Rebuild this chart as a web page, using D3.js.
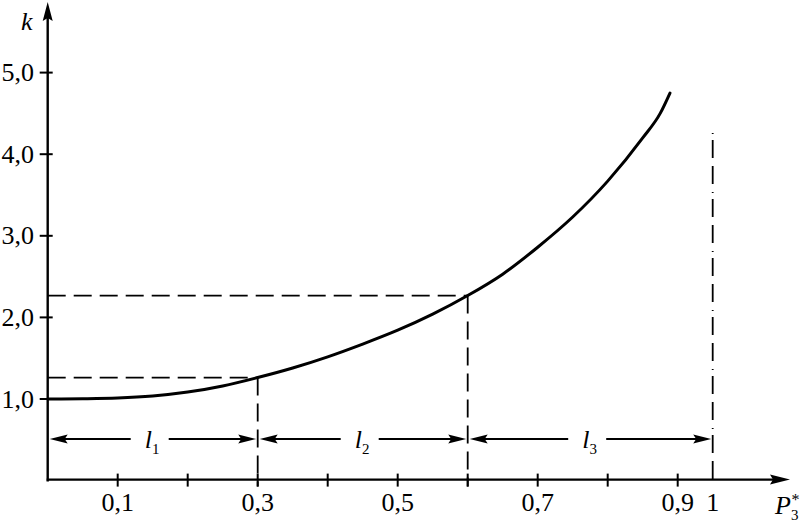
<!DOCTYPE html>
<html>
<head>
<meta charset="utf-8">
<script src="https://cdn.jsdelivr.net/npm/d3@7"></script>
<style>
  html, body { margin: 0; padding: 0; background: #fff; }
  svg { display: block; }
  text { font-family: "Liberation Serif", "Times New Roman", serif; fill: #000; }
</style>
</head>
<body>
<svg id="chart" width="800" height="523"></svg>
<script>
// ---- data ----
const pValues = [0, 0.05, 0.10, 0.15, 0.20, 0.25, 0.30, 0.35, 0.40, 0.45, 0.50, 0.55, 0.60, 0.65, 0.70, 0.75, 0.80, 0.85, 0.875, 0.889];
const kValues = [1.0, 1.003, 1.012, 1.037, 1.085, 1.16, 1.263, 1.38, 1.517, 1.673, 1.843, 2.04, 2.268, 2.53, 2.86, 3.23, 3.67, 4.2, 4.5, 4.75];

const xTickValues = [0.1, 0.2, 0.3, 0.4, 0.5, 0.6, 0.7, 0.8, 0.9];
const xLabelValues = [0.1, 0.3, 0.5, 0.7, 0.9, 0.95];
const xLabelTexts = ["0,1", "0,3", "0,5", "0,7", "0,9", "1"];
const yTickValues = [1, 2, 3, 4, 5];
const yTickLabels = ["1,0", "2,0", "3,0", "4,0", "5,0"];

const guideP = [0.3, 0.6];          // dashed guides to curve
const guideK = [1.263, 2.268];
const limitP = 0.95;                // vertical dashed limit line
const limitTopK = 4.26;
const segStart = [0, 0.3, 0.6];
const segEnd = [0.3, 0.6, 0.95];
const segSub = ["1", "2", "3"];
const segLevelK = 0.51;

// ---- drawing ----
const svg = d3.select("#chart");
const x = d3.scaleLinear().domain([0, 1]).range([47.7, 747.7]);
const y = d3.scaleLinear().domain([0, 5]).range([480.6, 72.6]);
const x0 = x(0), y0 = y(0);
const FS = 26;

// axes
svg.append("line").attr("x1", x0).attr("y1", y0 + 1).attr("x2", x0).attr("y2", 12)
  .attr("stroke", "#000").attr("stroke-width", 2.4);
svg.append("path").attr("d", `M${x0},2 L${x0 - 5},21 L${x0},18 L${x0 + 5},21 Z`).attr("fill", "#000");
svg.append("line").attr("x1", x0 - 1).attr("y1", y0 - 1).attr("x2", 780).attr("y2", y0 - 1)
  .attr("stroke", "#000").attr("stroke-width", 2.4);
svg.append("path").attr("d", `M790,${y0 - 1} L770,${y0 - 6} L773,${y0 - 1} L770,${y0 + 4} Z`).attr("fill", "#000");

// x ticks
svg.selectAll(".xt").data(xTickValues).enter().append("line")
  .attr("x1", d => x(d)).attr("x2", d => x(d))
  .attr("y1", y0 - 7).attr("y2", y0 + 6)
  .attr("stroke", "#000").attr("stroke-width", 2);
svg.selectAll(".xl").data(xLabelValues).enter().append("text")
  .attr("x", d => x(d)).attr("y", 511)
  .attr("text-anchor", "middle").attr("font-size", FS)
  .text((d, i) => xLabelTexts[i]);

// y ticks
svg.selectAll(".yt").data(yTickValues).enter().append("line")
  .attr("x1", x0 - 8).attr("x2", x0 + 5)
  .attr("y1", d => y(d)).attr("y2", d => y(d))
  .attr("stroke", "#000").attr("stroke-width", 2);
svg.selectAll(".yl").data(yTickValues).enter().append("text")
  .attr("x", 34).attr("y", d => y(d) + 8.5)
  .attr("text-anchor", "end").attr("font-size", FS)
  .text((d, i) => yTickLabels[i]);

// axis titles
svg.append("text").attr("x", 21).attr("y", 30).attr("font-size", FS)
  .attr("font-style", "italic").text("k");
const pt = svg.append("text").attr("x", 775).attr("y", 514).attr("font-size", FS).attr("font-style", "italic");
pt.append("tspan").text("P");
pt.append("tspan").attr("font-size", 15).attr("font-style", "normal").attr("dy", 6).text("3");
pt.append("tspan").attr("font-size", 16).attr("font-style", "normal").attr("dx", -7).attr("dy", -15).text("*");

// dashed guides
const dash = "18,8";
guideP.forEach((p, i) => {
  svg.append("line").attr("x1", x0).attr("x2", x(p)).attr("y1", y(guideK[i])).attr("y2", y(guideK[i]))
    .attr("stroke", "#000").attr("stroke-width", 1.8).attr("stroke-dasharray", dash);
  svg.append("line").attr("x1", x(p)).attr("x2", x(p)).attr("y1", y(guideK[i])).attr("y2", y0 + 6)
    .attr("stroke", "#000").attr("stroke-width", 1.8).attr("stroke-dasharray", dash);
});
svg.append("line").attr("x1", x(limitP)).attr("x2", x(limitP)).attr("y1", y(limitTopK)).attr("y2", y0)
  .attr("stroke", "#000").attr("stroke-width", 1.8).attr("stroke-dasharray", "1,6,18,8,18,8");

// curve
const line = d3.line().x(d => x(d[0])).y(d => y(d[1])).curve(d3.curveMonotoneX);
svg.append("path").datum(pValues.map((p, i) => [p, kValues[i]]))
  .attr("d", line).attr("fill", "none").attr("stroke", "#000").attr("stroke-width", 3)
  .attr("stroke-linecap", "round");

// dimension arrows
const dy = y(segLevelK);
function arrowHead(tipX, dir) {
  const L = 18, H = 4.5;
  svg.append("path")
    .attr("d", `M${tipX},${dy} L${tipX + dir * L},${dy - H} L${tipX + dir * (L - 3)},${dy} L${tipX + dir * L},${dy + H} Z`)
    .attr("fill", "#000");
}
segStart.forEach((s, i) => {
  const xa = x(s) + 2, xb = x(segEnd[i]) - 1.5;
  const mid = (x(s) + x(segEnd[i])) / 2 - 2;
  svg.append("line").attr("x1", xa + 10).attr("x2", mid - 20).attr("y1", dy).attr("y2", dy)
    .attr("stroke", "#000").attr("stroke-width", 2.2);
  svg.append("line").attr("x1", mid + 18).attr("x2", xb - 10).attr("y1", dy).attr("y2", dy)
    .attr("stroke", "#000").attr("stroke-width", 2.2);
  arrowHead(xa, 1);
  arrowHead(xb, -1);
  const t = svg.append("text").attr("x", mid - 6).attr("y", dy + 9).attr("font-size", FS).attr("font-style", "italic");
  t.append("tspan").text("l");
  t.append("tspan").attr("font-size", 15).attr("font-style", "normal").attr("dy", 6).text(segSub[i]);
});
</script>
</body>
</html>
